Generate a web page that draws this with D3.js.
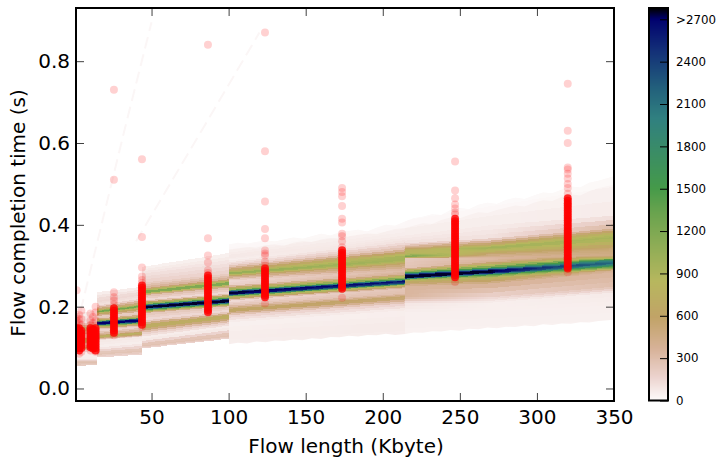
<!DOCTYPE html>
<html>
<head>
<meta charset="utf-8">
<script src="https://cdn.jsdelivr.net/npm/d3@7"></script>
<style>
    html, body { margin: 0; padding: 0; background: #fff; }
    svg { display: block; }
    text { font-family: "DejaVu Sans", sans-serif; fill: #000; }
</style>
</head>
<body>
<svg id="chart" width="719" height="458"></svg>
<script>
// Ticks
const xTicks = [50, 100, 150, 200, 250, 300, 350];
const yTicks = [0, 0.2, 0.4, 0.6, 0.8];
const countTicks = [0, 300, 600, 900, 1200, 1500, 1800, 2100, 2400, 2700];

// Density bands: [time at left, time at right, count at left, count at right]
const sectionEdges = [1, 14.6, 43.5, 100, 214.5, 270, 350];
const bands1 = [
    [.057, .058, 200, 200], [.065, .066, 300, 300], [.072, .074, 60, 60], [.090, .092, 50, 50],
    [.100, .102, 650, 700], [.108, .110, 200, 200], [.116, .120, 900, 1200], [.126, .130, 200, 200],
    [.145, .150, 700, 700], [.160, .165, 120, 120], [.185, .190, 40, 40]
];
const bands2 = [
    [.077, .084, 150, 150], [.087, .094, 280, 280], [.101, .111, 50, 50], [.119, .128, 80, 80],
    [.123, .131, 400, 400], [.128, .136, 800, 800], [.133, .141, 400, 400], [.145, .153, 120, 120],
    [.153, .160, 900, 900], [.158, .165, 2700, 2700], [.163, .170, 2700, 2700], [.167, .175, 800, 800],
    [.175, .185, 120, 120], [.185, .197, 700, 700], [.189, .202, 1400, 1400], [.194, .207, 600, 600],
    [.204, .221, 100, 100], [.216, .233, 150, 150], [.236, .248, 40, 40]
];
const bands3 = [
    [.099, .123, 150, 150], [.106, .131, 300, 300], [.123, .150, 30, 30], [.138, .163, 200, 200],
    [.153, .177, 800, 800], [.167, .189, 120, 120], [.185, .202, 250, 250], [.192, .208, 1300, 1300],
    [.197, .212, 2750, 2750], [.202, .218, 2750, 2750], [.207, .223, 1200, 1200], [.216, .233, 110, 110],
    [.229, .248, 300, 300], [.236, .258, 1350, 1350], [.246, .268, 400, 400], [.260, .282, 180, 180],
    [.282, .307, 100, 100], [.297, .331, 35, 35]
];
const bands4 = [
    [.105, .125, 50, 50], [.130, .150, 60, 70], [.163, .192, 40, 50], [.180, .209, 180, 180],
    [.192, .224, 700, 600], [.204, .233, 250, 280], [.216, .246, 110, 250], [.226, .254, 1100, 900],
    [.231, .258, 2750, 2300], [.237, .264, 2750, 2700], [.242, .269, 1100, 1300], [.253, .280, 180, 400],
    [.265, .290, 130, 300], [.275, .305, 500, 550], [.282, .314, 1150, 950], [.290, .326, 600, 950],
    [.302, .341, 170, 300], [.314, .358, 45, 110], [.322, .375, 80, 60], [.339, .400, 45, 35],
    [.360, .430, 20, 20]
];
const bands5 = [
    [.130, .135, 40, 40], [.187, .192, 50, 50], [.211, .211, 90, 50], [.224, .224, 350, 150],
    [.251, .258, 350, 400], [.263, .272, 700, 800], [.267, .278, 1000, 1300], [.271, .284, 2750, 2750],
    [.278, .290, 2750, 2750], [.285, .297, 1200, 1300], [.295, .310, 250, 400], [.319, .319, 220, 320],
    [.323, .329, 1300, 500], [.331, .339, 800, 850], [.339, .346, 750, 1000], [.346, .353, 400, 650],
    [.356, .368, 110, 110], [.375, .400, 60, 60], [.430, .470, 20, 20]
];
const bands6 = [
    [.135, .150, 40, 40], [.192, .204, 50, 50], [.211, .236, 50, 70], [.224, .250, 150, 280],
    [.258, .285, 400, 350], [.272, .290, 800, 400], [.278, .297, 1300, 1200], [.284, .302, 2750, 1700],
    [.290, .307, 2750, 2200], [.297, .314, 1300, 2000], [.310, .319, 400, 1000], [.319, .326, 320, 450],
    [.329, .339, 500, 500], [.339, .346, 850, 550], [.346, .368, 1000, 950], [.353, .378, 650, 850],
    [.368, .392, 110, 350], [.400, .424, 60, 70], [.470, .530, 20, 20]
];
const sectionBands = [bands1, bands2, bands3, bands4, bands5, bands6];

// Rough outer edges of the cloud above 100 Kbyte
const edgeLengths = [100, 106, 112, 118, 124, 130, 136, 142, 148, 154, 160, 166, 172, 178, 184, 190, 196, 202, 208, 214.5,
    220, 226, 232, 238, 244, 250, 256, 262, 268, 274, 280, 286, 292, 298, 304, 310, 316, 322, 328, 334, 340, 350];
const edgeTopTimes = [.352, .356, .354, .358, .362, .359, .364, .369, .366, .372, .378, .374, .381, .385, .388, .384, .393, .400, .398, .408,
    .416, .420, .426, .424, .436, .441, .438, .449, .454, .451, .461, .466, .463, .472, .479, .477, .486, .494, .491, .503, .508, .519];
const edgeFadeTimes = [.340, .343, .346, .344, .350, .352, .349, .356, .360, .358, .364, .368, .366, .372, .376, .379, .377, .384, .390, .392,
    .398, .404, .402, .412, .418, .416, .424, .431, .429, .436, .442, .447, .445, .454, .460, .458, .468, .474, .472, .482, .490, .498];
const edgeBottomTimes = [.108, .112, .110, .115, .113, .117, .116, .120, .118, .123, .121, .126, .125, .129, .127, .131, .130, .134, .131, .133,
    .137, .136, .140, .139, .143, .141, .146, .145, .149, .147, .151, .150, .154, .152, .157, .155, .159, .158, .162, .161, .165, .168];

// Faint streaks running up from the origin
const streak1Lengths = [4, 33, 50];
const streak1Times = [0.19, 0.64, 0.895];
const streak2Lengths = [40, 84, 120];
const streak2Times = [0.36, 0.64, 0.87];

// Measured flows (the red dots)
const flowLengths = [1.4, 3, 4.5, 10.4, 12, 13.7, 25.6, 43.8, 86.6, 123.6, 173.6, 246.9, 320];
const strayTimes = [
    [.24, .175, .165, .155],
    [.18, .17, .16, .085],
    [.19, .17, .155, .09],
    [.183, .166, .155, .093],
    [.175, .16],
    [.2, .186, .166, .09],
    [.73, .51, .235, .223, .215, .205, .13],
    [.56, .37, .296, .274, .265, .258, .15],
    [.84, .367, .325, .308, .289, .282, .185],
    [.87, .58, .457, .39, .367, .337, .33, .325, .31, .30, .208],
    [.49, .48, .47, .446, .415, .406, .378, .372, .36, .345, .222],
    [.555, .484, .465, .45, .44, .43, .425, .26],
    [.745, .63, .60, .54, .535, .525, .513, .50, .49, .476, .284]
];
const coreTimes = [
    [.147, .141, .135, .129, .123, .117, .111, .105, .099],
    [.147, .141, .135, .129, .123, .117, .111, .105, .099, .093],
    [.141, .135, .129, .123, .117, .111, .105, .099],
    [.147, .141, .135, .129, .123, .117, .111, .105, .101],
    [.145, .139, .133, .127, .121, .115, .109, .103, .098],
    [.147, .141, .135, .129, .123, .117, .111, .105, .099, .093],
    [.196, .190, .184, .178, .172, .166, .160, .154, .148, .142, .136],
    [.252, .246, .240, .234, .228, .222, .216, .210, .204, .198, .192, .186, .180, .174, .168, .162, .156],
    [.276, .270, .264, .258, .252, .246, .240, .234, .228, .222, .216, .210, .204, .198, .192, .187],
    [.293, .287, .281, .275, .269, .263, .257, .251, .245, .239, .233, .227, .223],
    [.338, .332, .326, .320, .314, .308, .302, .296, .290, .284, .278, .272, .266, .260, .254, .248, .244],
    [.415, .409, .403, .397, .391, .385, .379, .373, .367, .361, .355, .349, .343, .337, .331, .325, .319,
     .313, .307, .301, .295, .289, .283, .277, .272],
    [.465, .459, .453, .447, .441, .435, .429, .423, .417, .411, .405, .399, .393, .387, .381, .375, .369,
     .363, .357, .351, .345, .339, .333, .327, .321, .315, .309, .303, .297, .293]
];

// gist_earth_r stops
const cmapStops = [0, 0.059, 0.133, 0.212, 0.302, 0.478, 0.541, 0.718, 0.792, 0.89, 0.973, 1];
const cmapColors = ["#fdfbfb", "#ecd3ce", "#d7b298", "#c1a367", "#b7b75e", "#69a34e",
    "#459a49", "#308080", "#23627c", "#133078", "#00006e", "#000000"];

const width = 719, height = 458;
const margin = { top: 8, right: 105, bottom: 57, left: 76 };
const innerWidth = width - margin.left - margin.right;
const innerHeight = height - margin.top - margin.bottom;
const countMax = 2780;
const labelSize = "20px";

const x = d3.scaleLinear().domain([1, 350]).range([0, innerWidth]);
const y = d3.scaleLinear().domain([-0.0306, 0.93]).range([innerHeight, 0]);
const colorScale = d3.scaleLinear()
    .domain(cmapStops.map(d => d * countMax))
    .range(cmapColors)
    .clamp(true);

const svg = d3.select("#chart");
svg.append("defs").append("clipPath").attr("id", "plot-clip")
    .append("rect").attr("width", innerWidth).attr("height", innerHeight);

const g = svg.append("g").attr("transform", `translate(${margin.left},${margin.top})`);
const plot = g.append("g").attr("clip-path", "url(#plot-clip)");

// Heat bands, as columns of small cells
function drawSection(parent, x0, x1, bands) {
    const stepX = 1.5, sub = 3;
    const cells = [];
    for (let len = x0; len < x1; len += stepX) {
        const f = (len + stepX / 2 - x0) / (x1 - x0);
        for (let i = 0; i < bands.length - 1; i++) {
            const a = bands[i], b = bands[i + 1];
            const ta = a[0] + (a[1] - a[0]) * f, tb = b[0] + (b[1] - b[0]) * f;
            const ca = a[2] + (a[3] - a[2]) * f, cb = b[2] + (b[3] - b[2]) * f;
            for (let s = 0; s < sub; s++) {
                cells.push({
                    len,
                    w: Math.min(stepX, x1 - len),
                    t0: ta + (tb - ta) * s / sub,
                    t1: ta + (tb - ta) * (s + 1) / sub,
                    c: ca + (cb - ca) * (s + 0.5) / sub
                });
            }
        }
    }
    parent.append("g")
        .attr("class", "heat")
        .attr("shape-rendering", "crispEdges")
        .selectAll("rect")
        .data(cells)
        .join("rect")
        .attr("x", d => x(d.len))
        .attr("width", d => x(d.len + d.w) - x(d.len) + 0.5)
        .attr("y", d => y(d.t1))
        .attr("height", d => y(d.t0) - y(d.t1) + 0.5)
        .attr("fill", d => colorScale(d.c));
}
sectionBands.forEach((bands, i) => drawSection(plot, sectionEdges[i], sectionEdges[i + 1], bands));

// White outside the rough edges of the cloud, half white over its thin rim
const edgePoints = edgeLengths.map((l, i) => ({
    l, top: edgeTopTimes[i], fade: edgeFadeTimes[i], bottom: edgeBottomTimes[i]
}));
plot.append("path")
    .attr("d", d3.area().x(d => x(d.l)).y0(d => y(d.top)).y1(d => y(d.fade))(edgePoints))
    .attr("fill", "#fff").attr("fill-opacity", 0.45);
plot.append("path")
    .attr("d", d3.area().x(d => x(d.l)).y0(y(0.93)).y1(d => y(d.top))(edgePoints))
    .attr("fill", "#fff");
plot.append("path")
    .attr("d", d3.area().x(d => x(d.l)).y0(y(-0.0306)).y1(d => y(d.bottom))(edgePoints))
    .attr("fill", "#fff");

// Streaks
const streakLine = d3.line().x(d => x(d[0])).y(d => y(d[1]));
[[streak1Lengths, streak1Times], [streak2Lengths, streak2Times]].forEach(([ls, ts]) => {
    plot.append("path")
        .attr("d", streakLine(ls.map((l, i) => [l, ts[i]])))
        .attr("fill", "none")
        .attr("stroke", "#fbf6f6")
        .attr("stroke-width", 2)
        .attr("stroke-dasharray", "12 6");
});

// Red dots
flowLengths.forEach((len, i) => {
    const col = plot.append("g").attr("class", "dots").attr("fill", "#ff0000");
    col.selectAll("circle.stray").data(strayTimes[i]).join("circle")
        .attr("class", "stray")
        .attr("cx", x(len)).attr("cy", d => y(d)).attr("r", 4)
        .attr("fill-opacity", 0.18);
    col.selectAll("circle.core").data(coreTimes[i]).join("circle")
        .attr("class", "core")
        .attr("cx", x(len)).attr("cy", d => y(d)).attr("r", 4)
        .attr("fill-opacity", 0.8);
});

// Axes, ticks inward on all four sides
const tickSize = 8;
function styleAxis(sel) {
    sel.select(".domain").remove();
    sel.selectAll("line").attr("stroke", "#000").attr("stroke-opacity", 0.75).attr("stroke-width", 1);
    sel.selectAll("text").style("font-size", labelSize);
}
function dropLabels(sel) {
    sel.selectAll("text").remove();
}
g.append("g").attr("transform", `translate(0,${innerHeight})`)
    .call(d3.axisBottom(x).tickValues(xTicks).tickFormat(d3.format("d")).tickSizeInner(-tickSize).tickPadding(9))
    .call(styleAxis);
g.append("g")
    .call(d3.axisTop(x).tickValues(xTicks).tickSizeInner(-tickSize))
    .call(styleAxis).call(dropLabels);
g.append("g")
    .call(d3.axisLeft(y).tickValues(yTicks).tickFormat(d3.format(".1f")).tickSizeInner(-tickSize).tickPadding(6))
    .call(styleAxis);
g.append("g").attr("transform", `translate(${innerWidth},0)`)
    .call(d3.axisRight(y).tickValues(yTicks).tickSizeInner(-tickSize))
    .call(styleAxis).call(dropLabels);

g.append("rect")
    .attr("width", innerWidth).attr("height", innerHeight)
    .attr("fill", "none").attr("stroke", "#000").attr("stroke-width", 2);

svg.append("text")
    .attr("x", 346).attr("y", 453)
    .attr("text-anchor", "middle")
    .style("font-size", labelSize)
    .text("Flow length (Kbyte)");
svg.append("text")
    .attr("transform", "translate(24.5,213) rotate(-90)")
    .attr("text-anchor", "middle")
    .style("font-size", labelSize)
    .text("Flow completion time (s)");

// Colour bar
const barX = 649, barW = 19, barTop = 8, barBottom = 400.5;
const barY = d3.scaleLinear().domain([0, countMax]).range([barBottom, barTop]);
const bar = svg.append("g");
bar.append("g").attr("shape-rendering", "crispEdges")
    .selectAll("rect")
    .data(d3.range(0, countMax, 7))
    .join("rect")
    .attr("x", barX).attr("width", barW)
    .attr("y", d => barY(d + 7)).attr("height", d => barY(d) - barY(d + 7) + 0.5)
    .attr("fill", d => colorScale(d));
bar.append("g").attr("transform", `translate(${barX + barW},0)`)
    .call(d3.axisRight(barY).tickValues(countTicks)
        .tickFormat(d => d === 2700 ? ">2700" : d).tickSizeInner(-tickSize).tickPadding(8))
    .call(sel => {
        sel.select(".domain").remove();
        sel.selectAll("line").attr("stroke", "#000").attr("stroke-width", 1);
        sel.selectAll("text").style("font-size", "11.8px");
    });
bar.append("rect")
    .attr("x", barX).attr("y", barTop).attr("width", barW).attr("height", barBottom - barTop)
    .attr("fill", "none").attr("stroke", "#000").attr("stroke-width", 2);
</script>
</body>
</html>
